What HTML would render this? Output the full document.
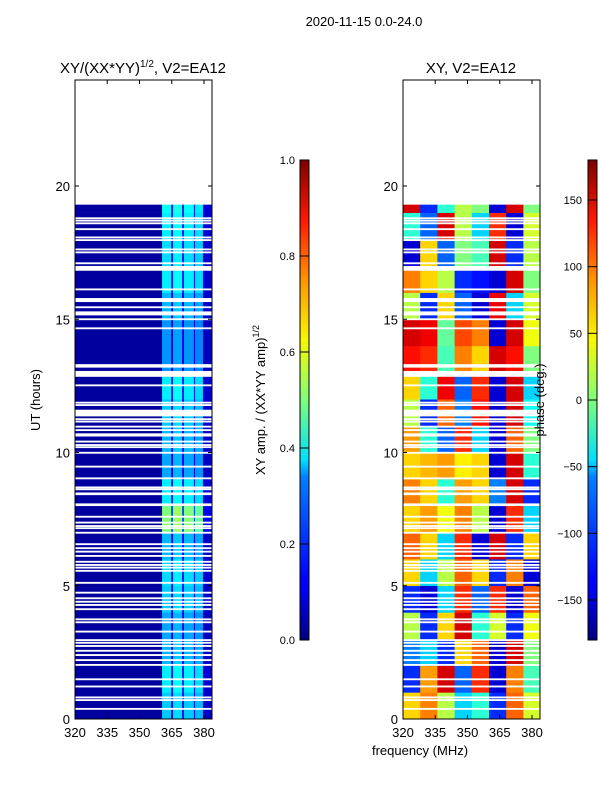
<!DOCTYPE html>
<html><head><meta charset="utf-8">
<style>
body{margin:0;background:#fff;width:600px;height:800px;overflow:hidden;font-family:"Liberation Sans","DejaVu Sans",sans-serif;}
svg text{font-family:"Liberation Sans","DejaVu Sans",sans-serif;}
</style></head>
<body>
<svg id="fig" width="600" height="800" xmlns="http://www.w3.org/2000/svg">
<defs>
<linearGradient id="jet" x1="0" y1="1" x2="0" y2="0">
<stop offset="0" stop-color="#00007f"/><stop offset="0.11" stop-color="#0000ff"/>
<stop offset="0.125" stop-color="#0000ff"/><stop offset="0.34" stop-color="#0080ff"/>
<stop offset="0.375" stop-color="#00dfff"/><stop offset="0.5" stop-color="#7dff7a"/>
<stop offset="0.625" stop-color="#f8f800"/><stop offset="0.75" stop-color="#ff9400"/>
<stop offset="0.875" stop-color="#ff1800"/><stop offset="1" stop-color="#7f0000"/>
</linearGradient>
</defs>
<text x="364" y="26" font-size="13" text-anchor="middle">2020-11-15 0.0-24.0</text>
<text x="143" y="73" font-size="15" text-anchor="middle">XY/(XX*YY)<tspan font-size="10" dy="-6">1/2</tspan><tspan dy="6">, V2=EA12</tspan></text>
<text x="471" y="73" font-size="15" text-anchor="middle">XY, V2=EA12</text>
<g id="left"></g>
<g id="right"></g>
<g id="axes"></g>
<rect x="300" y="160" width="9" height="480" fill="url(#jet)" stroke="#000" stroke-width="1"/>
<rect x="588" y="160" width="9" height="480" fill="url(#jet)" stroke="#000" stroke-width="1"/>
<g id="cbticks"></g>
<text transform="translate(40,400) rotate(-90)" font-size="13" text-anchor="middle">UT (hours)</text>
<text transform="translate(265,400) rotate(-90)" font-size="13" text-anchor="middle">XY amp. / (XX*YY amp)<tspan font-size="9" dy="-6">1/2</tspan></text>
<text transform="translate(544,400) rotate(-90)" font-size="13" text-anchor="middle">phase (deg.)</text>
<text x="420" y="755" font-size="13" text-anchor="middle">frequency (MHz)</text>
</svg>
<script>
const ampFreqEdges=[320,360.5,364.7,365.6,369.8,370.7,375.3,375.8,379.5,383.7];
const ampCol=[0.03,0.36,0.15,0.38,0.15,0.36,0.15,0.34,0.08];
const ampHour=[0.9,1.0,0.85,0.8,0.9,0.95,0.85,1.4,1.0,0.8,0.85,0.9,1.0,0.75,0.75,0.85,1.0,0.95,1.0,1.05];
const gapHours=[18.79,18.70,18.60,18.38,18.07,17.97,17.62,17.51,17.10,16.91,16.12,15.72,15.45,15.22,15.00,14.66,13.28,13.22,12.95,12.52,11.87,11.78,11.48,11.25,11.16,10.97,10.84,10.66,10.41,10.28,10.20,9.99,9.47,9.03,8.69,8.62,8.45,8.04,7.59,7.37,7.24,7.16,6.99,6.56,6.41,6.28,6.12,5.90,5.78,5.68,5.56,5.11,4.74,4.53,4.40,4.28,4.12,3.74,3.63,3.28,2.96,2.86,2.74,2.56,2.40,2.21,2.03,1.49,1.22,0.81,0.71,0.38];
const gapWidths={16.91:0.18,15.72:0.15,15.22:0.15,12.95:0.22,11.48:0.25,10.66:0.12,8.45:0.1,8.04:0.1};
const dataEnd=19.3;
const phaseFreqEdges=[320,328,336,344,352,360,368,376,383.7];
const phaseRows=[
[60,90,20,-60,-30,-120,100,30],
[-120,80,150,-100,120,-150,90,-20],
[-90,-60,-120,60,100,-150,150,0],
[20,-120,60,150,-30,30,-120,40],
[-120,-150,-60,120,-100,120,-150,100],
[60,-60,20,100,60,-120,90,-150],
[100,60,-60,120,-150,150,-120,60],
[60,80,40,90,20,-150,120,-60],
[90,60,-30,80,60,-90,150,-120],
[60,70,80,50,60,-150,150,-30],
[80,-30,-100,120,-60,-150,100,0],
[20,-120,100,-90,130,-150,150,-40],
[60,-30,140,-100,120,-150,150,-60],
[130,120,-20,90,60,150,130,0],
[150,140,-10,110,90,-150,150,40],
[20,-120,60,-100,-150,140,-60,30],
[90,60,20,-120,-130,-150,150,0],
[-150,60,-100,0,-20,150,-120,20],
[-30,-100,150,20,-60,120,-150,30],
[150,-120,-30,20,0,-150,150,0]];
const xTicks=[320,335,350,365,380];
const yTicks=[0,5,10,15,20];
const ampTicks=[0,0.2,0.4,0.6,0.8,1.0];
const phaseTicks=[-150,-100,-50,0,50,100,150];

const NS="http://www.w3.org/2000/svg";
const Y0=719,PPH=26.65;
const yS=h=>Y0-h*PPH;
const xL=f=>75+(f-320)*2.15;
const xR=f=>403+(f-320)*2.15;
function jet(v){v=Math.max(0,Math.min(1,v));
 const c=t=>Math.round(255*Math.max(0,Math.min(1,1.5-Math.abs(4*v-t))));
 return `rgb(${c(3)},${c(2)},${c(1)})`;}
function mk(p,tag,a){const e=document.createElementNS(NS,tag);for(const k in a)e.setAttribute(k,a[k]);p.appendChild(e);return e;}
const L=document.getElementById('left'),R=document.getElementById('right');
for(let h=0;h<ampHour.length;h++){
 const top=Math.min(h+1,dataEnd);
 for(let c=0;c<ampCol.length;c++){
  const v=c===0?ampCol[c]:ampCol[c]*ampHour[h];
  const r=mk(L,'rect',{x:xL(ampFreqEdges[c]),y:yS(top),width:xL(ampFreqEdges[c+1])-xL(ampFreqEdges[c])+0.3,height:(top-h)*PPH+0.3,fill:jet(v)});
  
  
 }
 for(let c=0;c<8;c++){
  const v=(phaseRows[h][c]+180)/360;
  const r=mk(R,'rect',{x:xR(phaseFreqEdges[c]),y:yS(top),width:xR(phaseFreqEdges[c+1])-xR(phaseFreqEdges[c])+0.3,height:(top-h)*PPH+0.3,fill:jet(v)});
  
  
 }
}
gapHours.forEach(g=>{const w=gapWidths[g]||0.07;
 [[L,75],[R,403]].forEach(([p,x])=>{
  const r=mk(p,'rect',{x:x,y:yS(g+w/2),width:137,height:w*PPH,fill:'#fff'});
  
  
 });
});
const A=document.getElementById('axes');
[75,403].forEach((x0,i)=>{
 const f=mk(A,'rect',{x:x0,y:80,width:137,height:639,fill:'none',stroke:'#000','stroke-width':1});
 
 
 const xs=i?xR:xL;
 xTicks.forEach(t=>{const x=xs(t);
  mk(A,'line',{x1:x,y1:719,x2:x,y2:715,stroke:'#000'});mk(A,'line',{x1:x,y1:80,x2:x,y2:84,stroke:'#000'});
  const tx=mk(A,'text',{x:x,y:737,'font-size':13,'text-anchor':'middle'});tx.textContent=t;
  
  
 });
 yTicks.forEach(t=>{const y=yS(t);
  mk(A,'line',{x1:x0,y1:y,x2:x0+4,y2:y,stroke:'#000'});mk(A,'line',{x1:x0+137,y1:y,x2:x0+133,y2:y,stroke:'#000'});
  const tx=mk(A,'text',{x:x0-5,y:y+5,'font-size':13,'text-anchor':'end'});tx.textContent=t;
  
  
 });
});
const C=document.getElementById('cbticks');
ampTicks.forEach(t=>{const y=640-t*480;
 mk(C,'line',{x1:300,y1:y,x2:309,y2:y,stroke:'#000'});
 const tx=mk(C,'text',{x:295,y:y+4,'font-size':11,'text-anchor':'end'});tx.textContent=t.toFixed(1);
 
 
});
phaseTicks.forEach(t=>{const y=400-t*480/360;
 mk(C,'line',{x1:588,y1:y,x2:597,y2:y,stroke:'#000'});
 const tx=mk(C,'text',{x:582,y:y+4,'font-size':11,'text-anchor':'end'});tx.textContent=t<0?'\u2212'+(-t):t;
 
 
});
</script>
</body></html>
